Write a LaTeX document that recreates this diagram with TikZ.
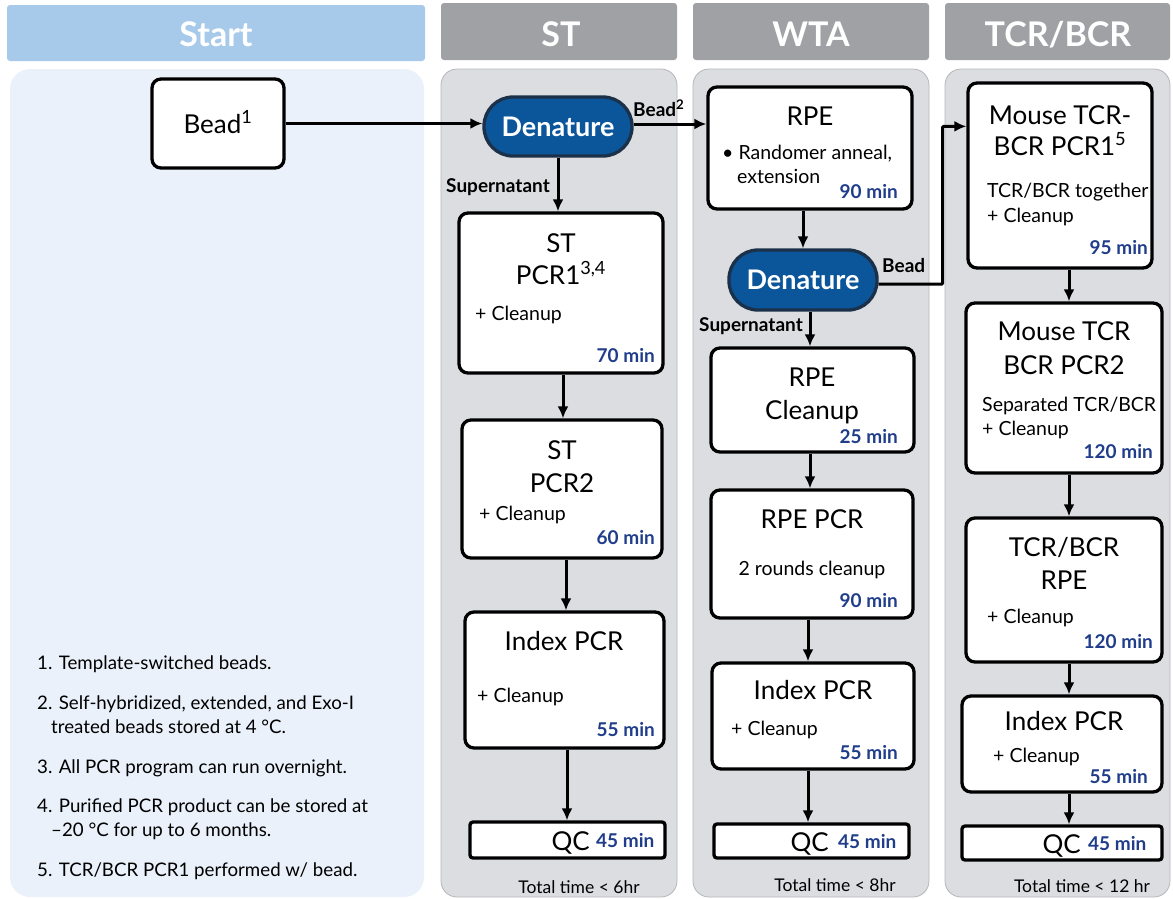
\documentclass[tikz,border=0pt]{standalone}
\usepackage{fontspec}
\setmainfont{Lato}
\usetikzlibrary{arrows.meta,calc}
\definecolor{startbar}{HTML}{A7CAEB}
\definecolor{graybar}{HTML}{A0A1A5}
\definecolor{startpanel}{HTML}{EAF1FA}
\definecolor{graypanel}{HTML}{DCDDE0}
\definecolor{panelline}{HTML}{B5B6B9}
\definecolor{denfill}{HTML}{0B559B}
\definecolor{denline}{HTML}{1B3149}
\definecolor{minblue}{HTML}{1F3D8A}
\tikzset{
  hdr/.style={fill=#1, rounded corners=3pt, draw=none},
  hdrtext/.style={text=white, font=\fontsize{34}{38}\selectfont\bfseries, anchor=base},
  panelA/.style={fill=startpanel, rounded corners=20pt, draw=none},
  panelB/.style={fill=graypanel, rounded corners=16pt, draw=panelline, line width=0.8pt},
  box/.style={draw=black, fill=white, line width=3.3pt, rounded corners=9pt, inner sep=0pt},
  qcbox/.style={draw=black, fill=white, line width=3.3pt, rounded corners=3pt, inner sep=0pt},
  den/.style={draw=denline, fill=denfill, line width=3.3pt, rounded corners=29pt, inner sep=0pt,
              text=white, font=\fontsize{27}{30}\selectfont\bfseries},
  ttl/.style={font=\fontsize{26}{29}\selectfont, anchor=base, inner sep=0pt},
  body/.style={font=\fontsize{19.5}{22}\selectfont, anchor=base west, inner sep=0pt},
  bodyc/.style={font=\fontsize{19.5}{22}\selectfont, anchor=base, inner sep=0pt},
  tm/.style={font=\fontsize{19}{22}\selectfont\bfseries, text=minblue, anchor=base east, inner sep=0pt},
  tmw/.style={font=\fontsize{19}{22}\selectfont\bfseries, text=minblue, anchor=base west, inner sep=0pt},
  lbl/.style={font=\fontsize{19}{22}\selectfont\bfseries, inner sep=0pt},
  note/.style={font=\fontsize{18.7}{21}\selectfont, anchor=base west, inner sep=0pt},
  tot/.style={font=\fontsize{17.5}{20}\selectfont, anchor=base, inner sep=0pt},
  arr/.style={line width=3pt, -{Latex[length=12pt,width=11pt]}},
}
\begin{document}
\begin{tikzpicture}[x=1pt,y=-1pt]
\useasboundingbox (0,0) rectangle (1173,898);
% header bars
\fill[hdr=startbar] (7,5) rectangle (425,61);
\fill[hdr=graybar] (441,3) rectangle (677,60);
\fill[hdr=graybar] (693,3) rectangle (929,60);
\fill[hdr=graybar] (945,3) rectangle (1170,60);
\node[hdrtext] (hstart) at (216,46) {Start};
\node[hdrtext] (hst) at (561,46) {ST};
\node[hdrtext] (hwta) at (811,46) {WTA};
\node[hdrtext] (htcr) at (1058,46) {TCR/BCR};
% panels
\fill[panelA] (10,69) rectangle (424,897);
\draw[panelB] (441,69) rectangle (677,897);
\draw[panelB] (693,69) rectangle (929,897);
\draw[panelB] (945,69) rectangle (1170,897);

% Start column
\node[box, minimum width=132pt, minimum height=89pt] (bead) at (218,123.5) {};
\node[ttl] (beadt) at (218,133) {Bead\textsuperscript{1}};

% footnotes
\node[note] (n1) at (37,669) {1. Template-switched beads.};
\node[note] (n2a) at (37,709) {2. Self-hybridized, extended, and Exo-I};
\node[note] (n2b) at (51,733) {treated beads stored at 4 °C.};
\node[note] (n3) at (37,773) {3. All PCR program can run overnight.};
\node[note] (n4a) at (37,812) {4. Purified PCR product can be stored at};
\node[note] (n4b) at (51,836) {–20 °C for up to 6 months.};
\node[note] (n5) at (37,876) {5. TCR/BCR PCR1 performed w/ bead.};

% ST column
\node[den, minimum width=148pt, minimum height=59pt] (den1) at (558,126.5) {Denature};
\node[box, minimum width=204pt, minimum height=160pt] (st1) at (561,293) {};
\node[ttl] (st1a) at (561,252) {ST};
\node[ttl] (st1b) at (561,284) {PCR1\textsuperscript{3,4}};
\node[body] (st1c) at (475,320) {+ Cleanup};
\node[tm] (st1d) at (655,362) {70 min};
\node[box, minimum width=200pt, minimum height=138pt] (st2) at (562,489) {};
\node[ttl] (st2a) at (562,459) {ST};
\node[ttl] (st2b) at (562,492) {PCR2};
\node[body] (st2c) at (479,520) {+ Cleanup};
\node[tm] (st2d) at (655,544) {60 min};
\node[box, minimum width=199pt, minimum height=136pt] (stidx) at (564.5,680) {};
\node[ttl] (stidxa) at (564,650) {Index PCR};
\node[body] (stidxc) at (477,702) {+ Cleanup};
\node[tm] (stidxd) at (655,736) {55 min};
\node[qcbox, minimum width=195pt, minimum height=36pt] (stqc) at (567.5,840) {};
\node[ttl, anchor=base east] (stqca) at (590,850) {QC};
\node[tmw] (stqcb) at (596,847) {45 min};
\node[tot] (sttot) at (579,893) {Total time < 6hr};

\node[lbl, anchor=base east] (sup1) at (550,192) {Supernatant};
\node[lbl, anchor=base west] (bead2) at (633,116) {Bead\textsuperscript{2}};

% WTA column
\node[box, minimum width=204pt, minimum height=122pt] (rpe) at (810,148) {};
\node[ttl] (rpea) at (810,125) {RPE};
\node[body] (rpeb) at (722,159) {• Randomer anneal,};
\node[body] (rpec) at (737,183) {extension};
\node[tm] (rped) at (898,198) {90 min};
\node[den, minimum width=148pt, minimum height=60pt] (den2) at (803,280) {Denature};
\node[lbl, anchor=base west] (bead3) at (882,272) {Bead};
\node[lbl, anchor=base east] (sup2) at (803,331) {Supernatant};
\node[box, minimum width=203pt, minimum height=104pt] (rpecl) at (812.5,400) {};
\node[ttl] (rpecla) at (812,386) {RPE};
\node[ttl] (rpeclb) at (812,419) {Cleanup};
\node[tm] (rpecld) at (898,443) {25 min};
\node[box, minimum width=202pt, minimum height=128pt] (rpepcr) at (812,554) {};
\node[ttl] (rpepcra) at (812,528) {RPE PCR};
\node[bodyc] (rpepcrb) at (812,575) {2 rounds cleanup};
\node[tm] (rpepcrd) at (898,607) {90 min};
\node[box, minimum width=202pt, minimum height=106pt] (widx) at (813,716) {};
\node[ttl] (widxa) at (813,699) {Index PCR};
\node[body] (widxc) at (731,735) {+ Cleanup};
\node[tm] (widxd) at (898,759) {55 min};
\node[qcbox, minimum width=195pt, minimum height=34pt] (wqc) at (811.5,841) {};
\node[ttl, anchor=base east] (wqca) at (829,851) {QC};
\node[tmw] (wqcb) at (838,848) {45 min};
\node[tot] (wtot) at (835,891) {Total time < 8hr};

% TCR/BCR column
\node[box, minimum width=184pt, minimum height=185pt] (m1) at (1060,175.5) {};
\node[ttl] (m1a) at (1060,124) {Mouse TCR-};
\node[ttl] (m1b) at (1060,155) {BCR PCR1\textsuperscript{5}};
\node[body] (m1c) at (987,197) {TCR/BCR together};
\node[body] (m1e) at (987,222) {+ Cleanup};
\node[tm] (m1d) at (1148,254) {95 min};
\node[box, minimum width=196pt, minimum height=170pt] (m2) at (1064,388) {};
\node[ttl] (m2a) at (1064,340) {Mouse TCR};
\node[ttl] (m2b) at (1064,374) {BCR PCR2};
\node[body] (m2c) at (982,411) {Separated TCR/BCR};
\node[body] (m2e) at (982,435) {+ Cleanup};
\node[tm] (m2d) at (1153,458) {120 min};
\node[box, minimum width=196pt, minimum height=144pt] (trpe) at (1064,590) {};
\node[ttl] (trpea) at (1064,556) {TCR/BCR};
\node[ttl] (trpeb) at (1064,589) {RPE};
\node[body] (trpec) at (987,623) {+ Cleanup};
\node[tm] (trped) at (1153,648) {120 min};
\node[box, minimum width=200pt, minimum height=96pt] (tidx) at (1062,744) {};
\node[ttl] (tidxa) at (1064,730) {Index PCR};
\node[body] (tidxc) at (993,762) {+ Cleanup};
\node[tm] (tidxd) at (1148,783) {55 min};
\node[qcbox, minimum width=200pt, minimum height=34pt] (tqc) at (1062,843) {};
\node[ttl, anchor=base east] (tqca) at (1081,853) {QC};
\node[tmw] (tqcb) at (1088,850) {45 min};
\node[tot] (ttot) at (1082,892) {Total time < 12 hr};

% connectors
\draw[arr] (bead.east) -- (bead.east -| den1.west);
\draw[arr] (den1.east |- 0,124) -- (rpe.west |- 0,124);
\draw[arr] (den1.south) -- (den1.south |- st1.north);
\draw[arr] ([xshift=2pt]st1.south) -- ([xshift=2pt]st1.south |- st2.north);
\draw[arr] ([xshift=4pt]st2.south) -- ([xshift=4pt]st2.south |- stidx.north);
\draw[arr] ([xshift=2.5pt]stidx.south) -- ([xshift=2.5pt]stidx.south |- stqc.north);
\draw[arr] (rpe.south -| den2.north) -- (den2.north);
\draw[arr] ([xshift=7pt]den2.south) -- ([xshift=7pt]den2.south |- rpecl.north);
\draw[arr] ([xshift=-2.5pt]rpecl.south) -- ([xshift=-2.5pt]rpecl.south |- rpepcr.north);
\draw[arr] ([xshift=-4pt]rpepcr.south) -- ([xshift=-4pt]rpepcr.south |- widx.north);
\draw[arr] ([xshift=-5pt]widx.south) -- ([xshift=-5pt]widx.south |- wqc.north);
\draw[arr, rounded corners=1pt]
  ([yshift=-4pt]den2.east) -- ++(64,0) |- ([yshift=-45pt]m1.north west);
\draw[arr] ([xshift=9pt]m1.south) -- ([xshift=9pt]m1.south |- m2.north);
\draw[arr] ([xshift=5pt]m2.south) -- ([xshift=5pt]m2.south |- trpe.north);
\draw[arr] ([xshift=5pt]trpe.south) -- ([xshift=5pt]trpe.south |- tidx.north);
\draw[arr] ([xshift=7pt]tidx.south) -- ([xshift=7pt]tidx.south |- tqc.north);
\end{tikzpicture}
\end{document}
